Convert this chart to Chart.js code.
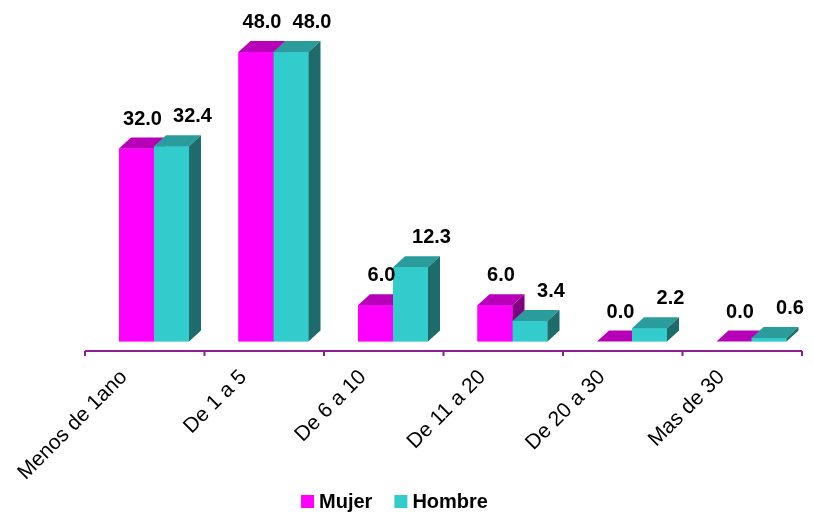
<!DOCTYPE html>
<html>
<head>
<meta charset="utf-8">
<script src="https://cdn.jsdelivr.net/npm/chart.js@4.4.1/dist/chart.umd.min.js"></script>
<style>
  html, body { margin: 0; padding: 0; background: #fff; }
  #wrap { width: 814px; height: 517px; }
</style>
</head>
<body>
<div id="wrap"><canvas id="years" width="814" height="517"></canvas></div>
<script>
const categories = ['Menos de 1ano', 'De 1 a 5', 'De 6 a 10', 'De 11 a 20', 'De 20 a 30', 'Mas de 30'];
const mujer = [32.0, 48.0, 6.0, 6.0, 0.0, 0.0];
const hombre = [32.4, 48.0, 12.3, 3.4, 2.2, 0.6];

const FONT = 'Arial, "Liberation Sans", sans-serif';

// front / top / side colours per series
const shades = [
    { front: '#FF00FF', top: '#B800B8', side: '#800080', labelDx: 6 },
    { front: '#33CCCC', top: '#2A9C9C', side: '#1E6B6B', labelDx: 21 },
];
const depth = { dx: 12, dy: 11 };
const floor = { dx: -9.25, dy: 9.5 };

// extruded bars, floor edge, value labels and the legend row
const bars3d = {
    id: 'bars3d',
    beforeDatasetsDraw(chart) {
        const { ctx, scales: { x } } = chart;
        const yLine = chart.chartArea.bottom + floor.dy;
        ctx.save();
        ctx.strokeStyle = '#8E1F8E';
        ctx.lineWidth = 2;
        ctx.beginPath();
        ctx.moveTo(x.left + floor.dx, yLine);
        ctx.lineTo(x.right + floor.dx, yLine);
        for (let i = 0; i <= categories.length; i++) {
            const px = x.getPixelForValue(i - 0.5) + floor.dx;
            ctx.moveTo(px, yLine);
            ctx.lineTo(px, yLine + 5);
        }
        ctx.stroke();
        ctx.restore();
    },
    afterDatasetsDraw(chart) {
        const { ctx } = chart;
        const metas = chart.data.datasets.map((d, i) => chart.getDatasetMeta(i));
        ctx.save();
        categories.forEach((c, j) => {
            metas.forEach((meta, i) => {
                const bar = meta.data[j];
                const s = shades[i];
                const l = bar.x - bar.width / 2;
                const r = bar.x + bar.width / 2;
                const t = bar.y;
                const b = bar.base;
                ctx.fillStyle = s.front;
                ctx.fillRect(l, t, r - l, b - t);
                ctx.fillStyle = s.top;
                ctx.beginPath();
                ctx.moveTo(l, t);
                ctx.lineTo(r, t);
                ctx.lineTo(r + depth.dx, t - depth.dy);
                ctx.lineTo(l + depth.dx, t - depth.dy);
                ctx.closePath();
                ctx.fill();
                ctx.fillStyle = s.side;
                ctx.beginPath();
                ctx.moveTo(r, t);
                ctx.lineTo(r + depth.dx, t - depth.dy);
                ctx.lineTo(r + depth.dx, b - depth.dy);
                ctx.lineTo(r, b);
                ctx.closePath();
                ctx.fill();
            });
        });
        ctx.fillStyle = '#000';
        ctx.font = 'bold 20px ' + FONT;
        ctx.textAlign = 'center';
        ctx.textBaseline = 'alphabetic';
        metas.forEach((meta, i) => {
            const values = chart.data.datasets[i].data;
            meta.data.forEach((bar, j) => {
                ctx.fillText(values[j].toFixed(1), bar.x + shades[i].labelDx, bar.y - depth.dy - 13);
            });
        });
        ctx.restore();
    },
    afterDraw(chart) {
        const { ctx } = chart;
        const items = chart.data.datasets;
        const box = 13, gap = 5, itemGap = 22, centerX = 394.5, midY = 501.5;
        ctx.save();
        ctx.font = 'bold 20px ' + FONT;
        ctx.textBaseline = 'middle';
        ctx.textAlign = 'left';
        const widths = items.map((d) => ctx.measureText(d.label).width);
        const total = widths.reduce((a, w) => a + box + gap + w, 0) + itemGap * (items.length - 1);
        let px = centerX - total / 2;
        items.forEach((d, i) => {
            ctx.fillStyle = d.backgroundColor;
            ctx.fillRect(px, midY - box / 2, box, box);
            ctx.fillStyle = '#000';
            ctx.fillText(d.label, px + box + gap, midY + 1);
            px += box + gap + widths[i] + itemGap;
        });
        ctx.restore();
    },
};

new Chart(document.getElementById('years'), {
    type: 'bar',
    data: {
        labels: categories,
        datasets: [
            { label: 'Mujer', data: mujer, backgroundColor: shades[0].front, borderWidth: 0 },
            { label: 'Hombre', data: hombre, backgroundColor: shades[1].front, borderWidth: 0 },
        ],
    },
    options: {
        responsive: false,
        animation: false,
        events: [],
        datasets: { bar: { categoryPercentage: 0.586, barPercentage: 1 } },
        layout: { padding: { top: 40, left: 94.25, right: 2.75, bottom: 0 } },
        scales: {
            x: {
                offset: true,
                grid: { display: false },
                border: { display: false },
                ticks: {
                    autoSkip: false,
                    minRotation: 45,
                    maxRotation: 45,
                    padding: 15.5,
                    labelOffset: -30,
                    color: '#000',
                    font: { family: FONT, size: 21 },
                },
                afterFit(scale) { scale.height = 175.5; },
            },
            y: { display: false, min: 0, max: 50 },
        },
        plugins: {
            legend: { display: false },
            tooltip: { enabled: false },
        },
    },
    plugins: [bars3d],
});
</script>
</body>
</html>
